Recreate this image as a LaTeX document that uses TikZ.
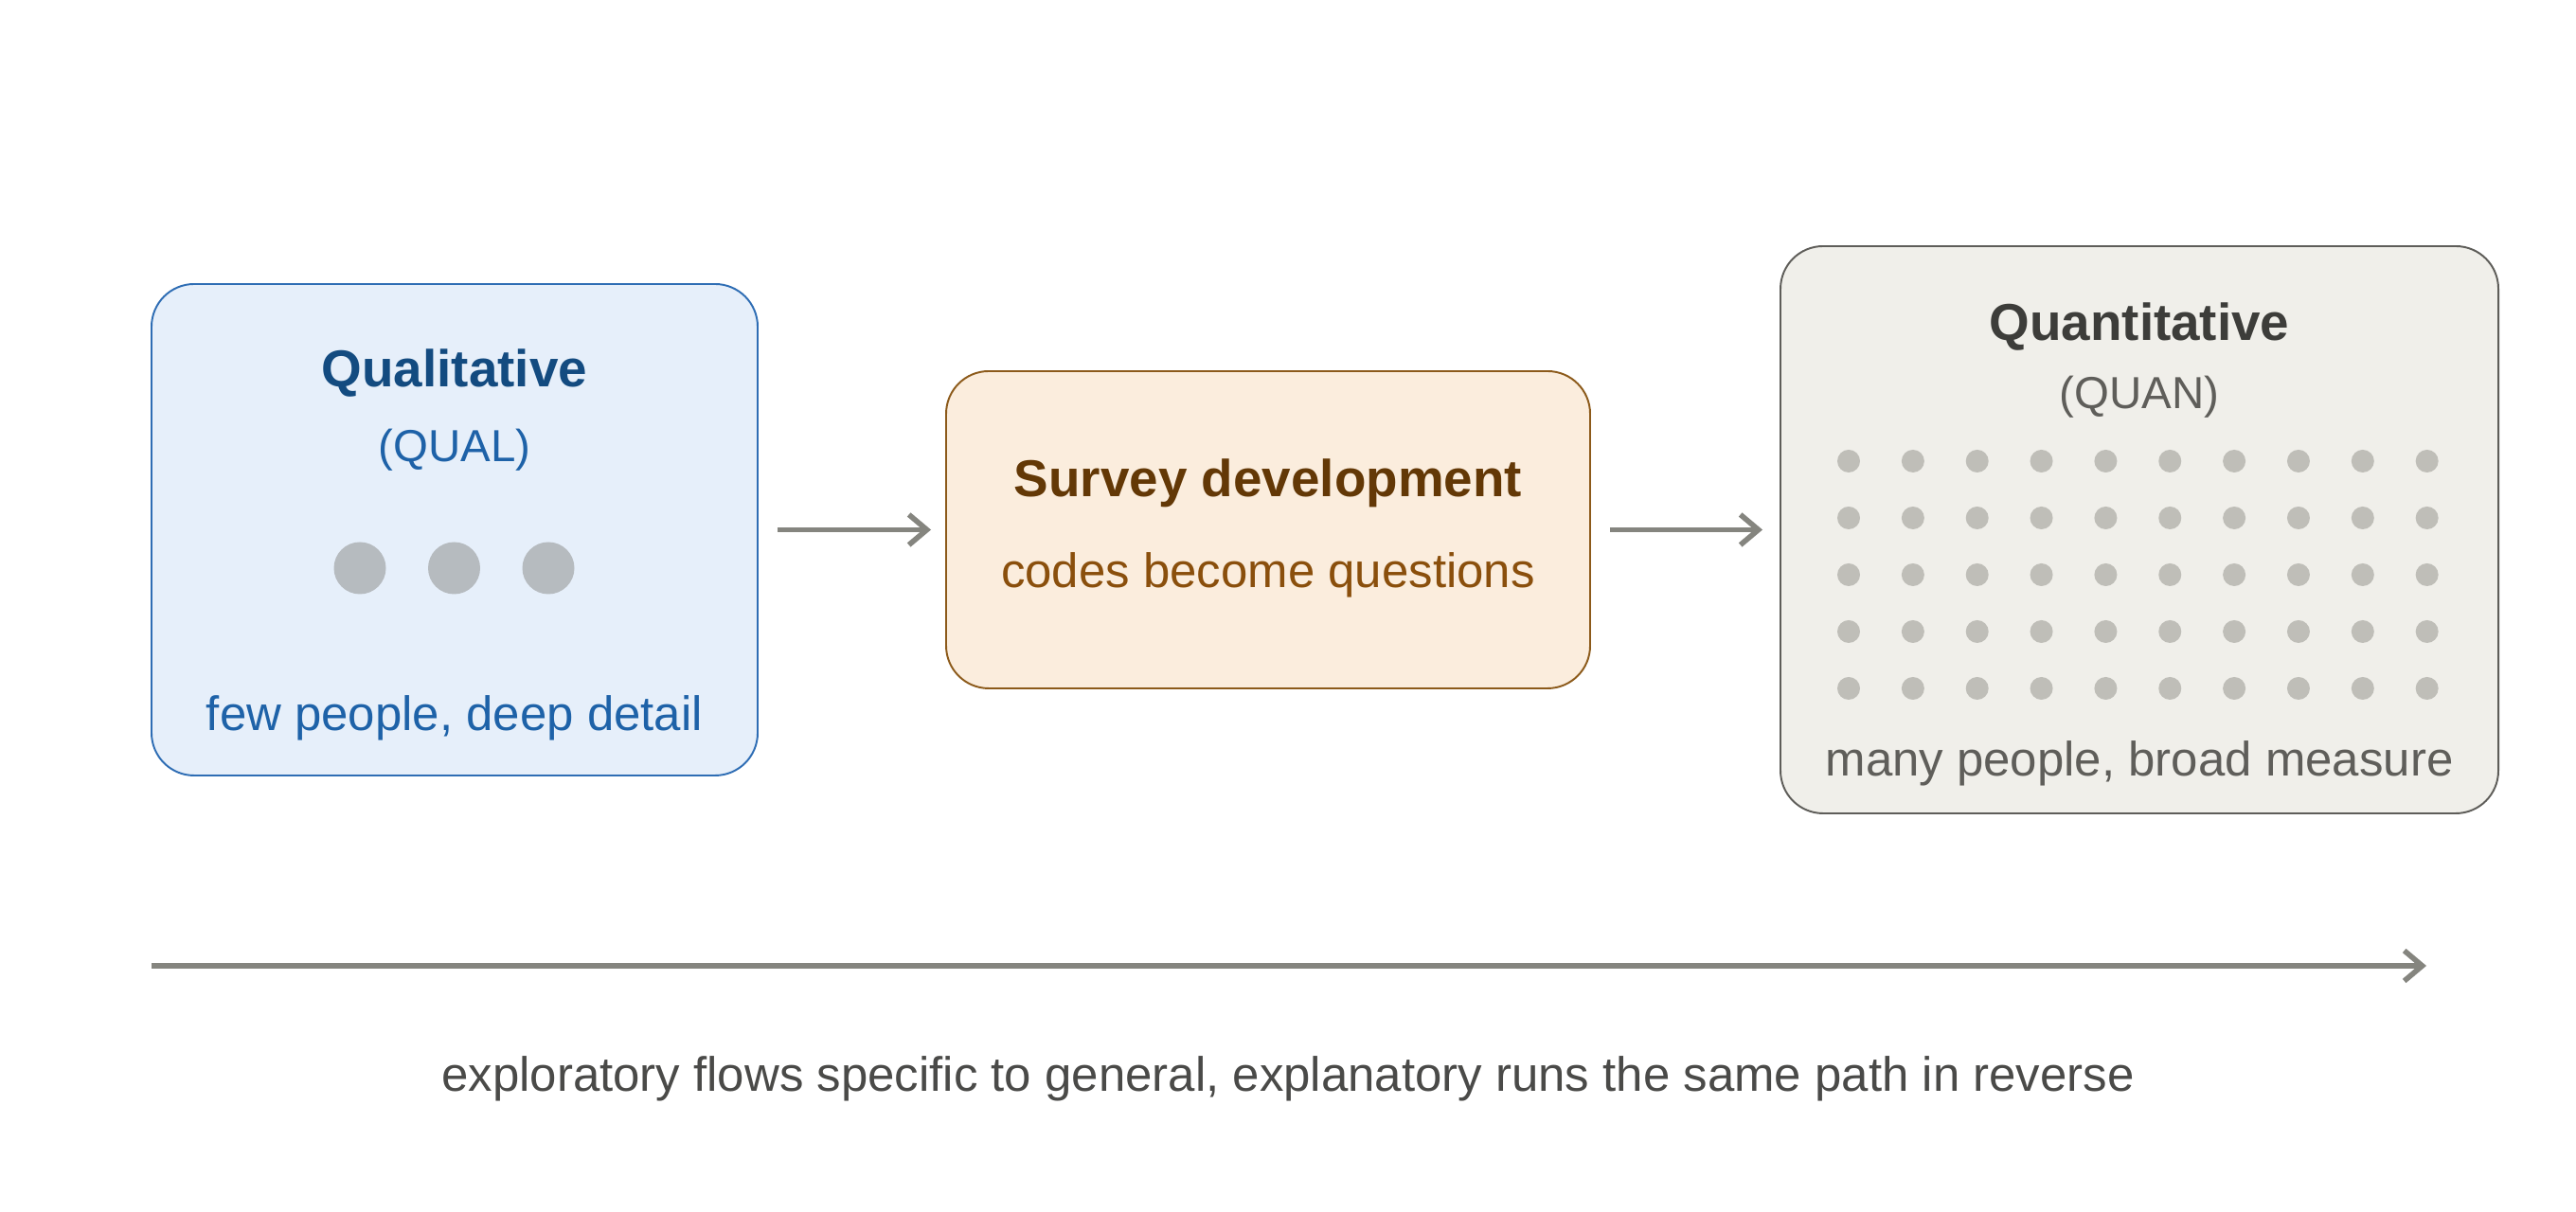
\documentclass[tikz,border=0pt]{standalone}
\usepackage{fontspec}
\setmainfont{Liberation Sans}
\usetikzlibrary{arrows.meta,positioning}
\definecolor{qualfill}{HTML}{E6EFFA}
\definecolor{qualline}{HTML}{2E6DB4}
\definecolor{qualhead}{HTML}{134B80}
\definecolor{qualtext}{HTML}{1E62A8}
\definecolor{qualdot}{HTML}{B6BBBF}
\definecolor{survfill}{HTML}{FBEDDD}
\definecolor{survline}{HTML}{8C5A1A}
\definecolor{survhead}{HTML}{633806}
\definecolor{survtext}{HTML}{8A4F0C}
\definecolor{quanfill}{HTML}{F0EFEA}
\definecolor{quanline}{HTML}{5E5D59}
\definecolor{quanhead}{HTML}{3D3D3A}
\definecolor{quantext}{HTML}{5F5E5A}
\definecolor{quandot}{HTML}{BFBEB8}
\definecolor{flowgray}{HTML}{85857F}
\definecolor{capgray}{HTML}{4A4A48}
\tikzset{
box/.style={
    rectangle,
    draw,
    rounded corners=0.45cm,
    line width=0.55pt,
    inner sep=0pt
},
headline/.style={
    font=\fontsize{15.6}{18}\selectfont\bfseries
},
tagline/.style={
    font=\fontsize{13.5}{16}\selectfont
},
note/.style={
    font=\fontsize{14.5}{17}\selectfont
},
blob/.style={
    circle,
    inner sep=0pt,
    draw=none
},
flow/.style={
    -{Straight Barb[length=0.19cm,width=0.32cm]},
    draw=flowgray,
    line width=1.6pt
}
}
\begin{document}
\begin{tikzpicture}
\path[use as bounding box, fill=white] (0,0) rectangle (27.2,12.8);

% the three stages
\node[box, fill=qualfill, draw=qualline, minimum width=6.4cm, minimum height=5.19cm] (qual) at (4.8,7.205) {};
\node[box, fill=survfill, draw=survline, minimum width=6.8cm, minimum height=3.35cm] (survey) at (13.39,7.205) {};
\node[box, fill=quanfill, draw=quanline, minimum width=7.58cm, minimum height=5.99cm] (quan) at (22.59,7.205) {};

% qualitative
\node[headline, text=qualhead] (qualname) at (4.8,8.86) {Qualitative};
\node[tagline, text=qualtext] (qualtag) at (4.8,8.05) {(QUAL)};
\foreach \i in {0,1,2}
    \node[blob, fill=qualdot, minimum size=0.55cm] (person-\i) at (3.80+0.995*\i,6.80) {};
\node[note, text=qualtext] (qualnote) at (4.8,5.22) {few people, deep detail};

% survey
\node[headline, text=survhead] (survname) at (13.39,7.70) {Survey development};
\node[note, text=survtext] (survnote) at (13.39,6.73) {codes become questions};

% quantitative
\node[headline, text=quanhead] (quanname) at (22.59,9.35) {Quantitative};
\node[tagline, text=quantext] (quantag) at (22.59,8.61) {(QUAN)};
\foreach \c in {0,...,9}
    \foreach \r in {0,...,4}
        \node[blob, fill=quandot, minimum size=0.24cm] (crowd-\r-\c) at (19.52+0.6785*\c,7.93-0.6*\r) {};
\node[note, text=quantext] (quannote) at (22.59,4.74) {many people, broad measure};

\path [flow, shorten <=0.2cm, shorten >=0.15cm] (qual) edge (survey);
\path [flow, shorten <=0.2cm, shorten >=0.18cm] (survey) edge (quan);

% direction of travel
\coordinate (axisL) at (1.6,2.6);
\coordinate (axisR) at (25.62,2.6);
\draw [flow] (axisL) -- (axisR);
\node[note, text=capgray] (caption) at (13.6,1.41) {exploratory flows specific to general, explanatory runs the same path in reverse};

\end{tikzpicture}
\end{document}
